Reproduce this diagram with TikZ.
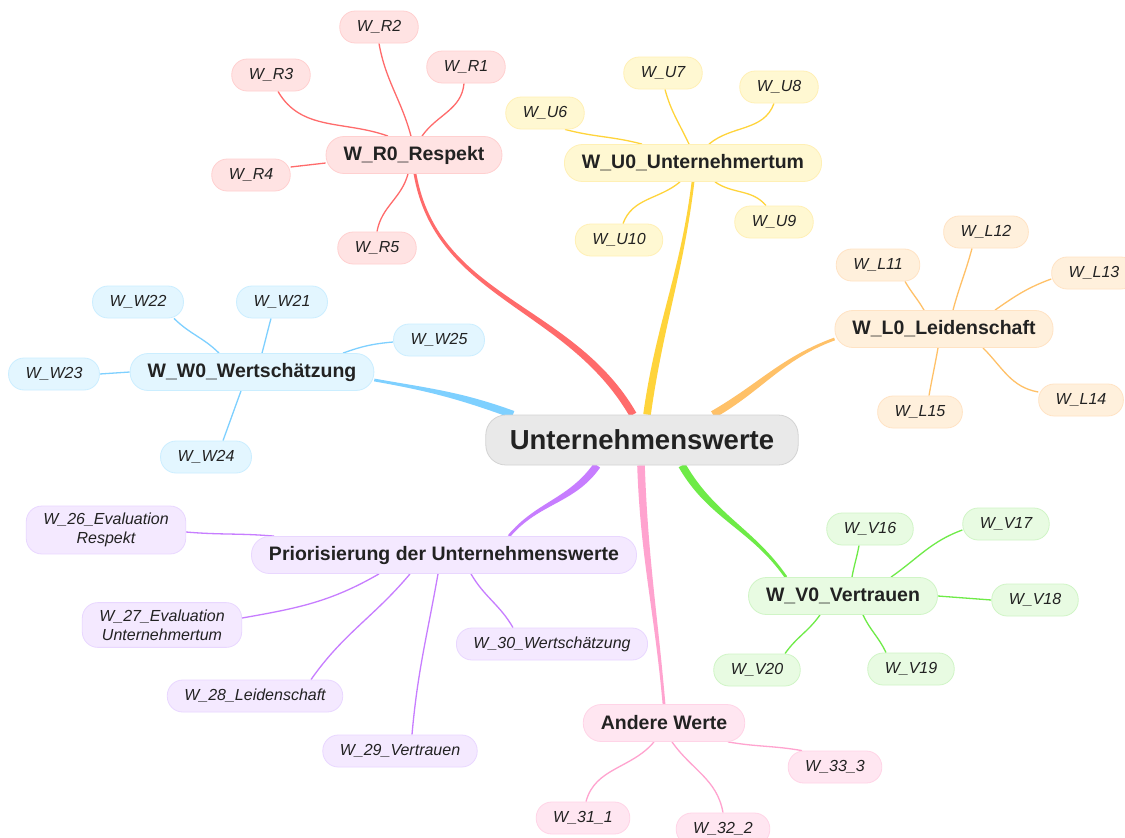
\documentclass[tikz,border=0pt]{standalone}
\usepackage{fontspec}
\setmainfont{Liberation Sans}
\usetikzlibrary{backgrounds, calc}
\definecolor{ink}{HTML}{222222}
\definecolor{rootfill}{HTML}{E9E9E9}
\definecolor{rootedge}{HTML}{D3D3D3}
\definecolor{redline}{HTML}{FF6B6B}
\definecolor{redfill}{HTML}{FFE3E3}
\definecolor{rededge}{HTML}{FFD0D0}
\definecolor{yelline}{HTML}{FFD43B}
\definecolor{yelfill}{HTML}{FFF8D2}
\definecolor{yeledge}{HTML}{FFF0B5}
\definecolor{oraline}{HTML}{FFC168}
\definecolor{orafill}{HTML}{FFF0DC}
\definecolor{oraedge}{HTML}{FFE3C4}
\definecolor{bluline}{HTML}{7ED0FF}
\definecolor{blufill}{HTML}{E3F6FF}
\definecolor{bluedge}{HTML}{CBEEFF}
\definecolor{purline}{HTML}{C77DFF}
\definecolor{purfill}{HTML}{F4E9FF}
\definecolor{puredge}{HTML}{E9D7FF}
\definecolor{pnkline}{HTML}{FFA3CF}
\definecolor{pnkfill}{HTML}{FFE6F1}
\definecolor{pnkedge}{HTML}{FFD4E7}
\definecolor{grnline}{HTML}{6EEB47}
\definecolor{grnfill}{HTML}{E8FBE2}
\definecolor{grnedge}{HTML}{D0F5C6}
% tapered main branch: colour, start, out angle, end, in angle
\newcommand\branchline[5]{%
  \fill[#1line] ($#2+(#3+90:3.8pt)$) to[out=#3,in=#5] ($#4+(#5-90:1.4pt)$)
    -- ($#4+(#5+90:1.4pt)$) to[out=#5,in=#3] ($#2+(#3-90:3.8pt)$) -- cycle;}

\begin{document}
\begin{tikzpicture}[x=1pt, y=1pt,
    root/.style={draw=rootedge, fill=rootfill, text=ink, rounded corners=20pt,
                 minimum height=50pt, inner xsep=24pt, line width=0.8pt,
                 font=\fontsize{27.5}{30}\selectfont\bfseries},
    topic/.style={draw=#1edge, fill=#1fill, text=ink, rounded corners=18pt,
                  minimum height=37pt, inner xsep=17.5pt, line width=0.8pt,
                  font=\fontsize{19.5}{22}\selectfont\bfseries},
    leaf/.style={draw=#1edge, fill=#1fill, text=ink, rounded corners=15.5pt,
                 minimum height=32pt, inner xsep=17pt, line width=0.8pt, align=center,
                 font=\fontsize{16}{19}\selectfont\itshape},
    twig/.style={draw=#1line, line width=1.3pt}]
  \useasboundingbox (0,0) rectangle (1125,-838);

  \node[root] (root) at (642,-440) {Unternehmenswerte};

  \node[topic=red] (r0) at (414,-155) {W\_R0\_Respekt};
  \node[leaf=red] (r1) at (466,-67) {W\_R1};
  \node[leaf=red] (r2) at (379,-27) {W\_R2};
  \node[leaf=red] (r3) at (271,-75) {W\_R3};
  \node[leaf=red] (r4) at (251,-175) {W\_R4};
  \node[leaf=red] (r5) at (377,-248) {W\_R5};

  \node[topic=yel] (u0) at (693,-163) {W\_U0\_Unternehmertum};
  \node[leaf=yel] (u6) at (545,-113) {W\_U6};
  \node[leaf=yel] (u7) at (663,-73) {W\_U7};
  \node[leaf=yel] (u8) at (779,-87) {W\_U8};
  \node[leaf=yel] (u9) at (774,-222) {W\_U9};
  \node[leaf=yel] (u10) at (619,-240) {W\_U10};

  \node[topic=ora] (l0) at (944,-329) {W\_L0\_Leidenschaft};
  \node[leaf=ora] (l11) at (878,-265) {W\_L11};
  \node[leaf=ora] (l12) at (986,-232) {W\_L12};
  \node[leaf=ora] (l13) at (1094,-273) {W\_L13};
  \node[leaf=ora] (l14) at (1081,-400) {W\_L14};
  \node[leaf=ora] (l15) at (920,-412) {W\_L15};

  \node[topic=blu] (w0) at (252,-372) {W\_W0\_Wertschätzung};
  \node[leaf=blu] (w21) at (282,-302) {W\_W21};
  \node[leaf=blu] (w22) at (138,-302) {W\_W22};
  \node[leaf=blu] (w23) at (54,-374) {W\_W23};
  \node[leaf=blu] (w24) at (206,-457) {W\_W24};
  \node[leaf=blu] (w25) at (439,-340) {W\_W25};

  \node[topic=pur] (pr) at (444,-555) {Priorisierung der Unternehmenswerte};
  \node[leaf=pur, inner ysep=7pt] (w26) at (106,-530) {W\_26\_Evaluation\\Respekt};
  \node[leaf=pur, inner ysep=7pt] (w27) at (162,-625) {W\_27\_Evaluation\\Unternehmertum};
  \node[leaf=pur] (w28) at (255,-696) {W\_28\_Leidenschaft};
  \node[leaf=pur] (w29) at (400,-751) {W\_29\_Vertrauen};
  \node[leaf=pur] (w30) at (552,-644) {W\_30\_Wertschätzung};

  \node[topic=pnk] (aw) at (664,-723) {Andere Werte};
  \node[leaf=pnk] (w31) at (583,-818) {W\_31\_1};
  \node[leaf=pnk] (w32) at (723,-829) {W\_32\_2};
  \node[leaf=pnk] (w33) at (835,-767) {W\_33\_3};

  \node[topic=grn] (v0) at (843,-596) {W\_V0\_Vertrauen};
  \node[leaf=grn] (v16) at (870,-529) {W\_V16};
  \node[leaf=grn] (v17) at (1006,-524) {W\_V17};
  \node[leaf=grn] (v18) at (1035,-600) {W\_V18};
  \node[leaf=grn] (v19) at (911,-669) {W\_V19};
  \node[leaf=grn] (v20) at (757,-670) {W\_V20};

  \begin{scope}[on background layer]
    \fill[white] (0,0) rectangle (1125,-838);

    \branchline{red}{([xshift=-9pt]root.north)}{120}{([xshift=1pt]r0.south)}{-80}
    \branchline{yel}{([xshift=5pt]root.north)}{82}{(u0.south)}{-97}
    \branchline{ora}{([xshift=71pt]root.north)}{30}{([yshift=-10pt]l0.west)}{200}
    \branchline{blu}{([xshift=-129pt]root.north)}{160}{([yshift=-8pt]w0.east)}{-10}
    \branchline{pur}{([xshift=-45pt]root.south)}{-125}{([xshift=65pt]pr.north)}{50}
    \branchline{pnk}{([xshift=-1pt]root.south)}{-88}{(aw.north)}{95}
    \branchline{grn}{([xshift=40pt]root.south)}{-60}{([xshift=-57pt]v0.north)}{125}

    \draw[twig=red] ([xshift=8pt]r0.north) to[out=55,in=-95] ([xshift=-2pt]r1.south);
    \draw[twig=red] ([xshift=-3pt]r0.north) to[out=105,in=-80] (r2.south);
    \draw[twig=red] ([xshift=-26pt]r0.north) to[out=160,in=-60] ([xshift=7pt]r3.south);
    \draw[twig=red] ([yshift=-8pt]r0.west) -- ([yshift=8pt]r4.east);
    \draw[twig=red] ([xshift=-6pt]r0.south) to[out=-105,in=80] (r5.north);

    \draw[twig=yel] ([xshift=-51pt]u0.north) to[out=165,in=-15] ([xshift=20pt]u6.south);
    \draw[twig=yel] ([xshift=-4pt]u0.north) to[out=115,in=-75] ([xshift=2pt]u7.south);
    \draw[twig=yel] ([xshift=16pt]u0.north) to[out=40,in=-110] ([xshift=-5pt]u8.south);
    \draw[twig=yel] ([xshift=22pt]u0.south) to[out=-35,in=130] ([xshift=-8pt]u9.north);
    \draw[twig=yel] ([xshift=-13pt]u0.south) to[out=-140,in=70] ([xshift=4pt]u10.north);

    \draw[twig=ora] ([xshift=-20pt]l0.north) to[out=120,in=-60] ([xshift=27pt]l11.south);
    \draw[twig=ora] ([xshift=9pt]l0.north) to[out=75,in=-105] ([xshift=-14pt]l12.south);
    \draw[twig=ora] ([xshift=51pt]l0.north) to[out=35,in=200] ([yshift=-6pt]l13.west);
    \draw[twig=ora] ([xshift=39pt]l0.south) to[out=-45,in=170] ([yshift=8pt]l14.west);
    \draw[twig=ora] ([xshift=-6pt]l0.south) to[out=-100,in=80] ([xshift=9pt]l15.north);

    \draw[twig=blu] ([xshift=10pt]w0.north) to[out=75,in=-105] ([xshift=-11pt]w21.south);
    \draw[twig=blu] ([xshift=-33pt]w0.north) to[out=135,in=-45] ([xshift=36pt]w22.south);
    \draw[twig=blu] (w0.west) -- (w23.east);
    \draw[twig=blu] ([xshift=-11pt]w0.south) to[out=-110,in=70] ([xshift=17pt]w24.north);
    \draw[twig=blu] ([xshift=91pt]w0.north) to[out=20,in=185] ([yshift=-2pt]w25.west);

    \draw[twig=pur] ([xshift=-170pt]pr.north) to[out=175,in=-5] ([yshift=-2pt]w26.east);
    \draw[twig=pur] ([xshift=-65pt]pr.south) to[out=-150,in=10] ([yshift=7pt]w27.east);
    \draw[twig=pur] ([xshift=-34pt]pr.south) to[out=-130,in=55] ([xshift=56pt]w28.north);
    \draw[twig=pur] ([xshift=-6pt]pr.south) to[out=-100,in=85] ([xshift=12pt]w29.north);
    \draw[twig=pur] ([xshift=27pt]pr.south) to[out=-60,in=120] ([xshift=-39pt]w30.north);

    \draw[twig=pnk] ([xshift=-10pt]aw.south) to[out=-130,in=75] ([xshift=3pt]w31.north);
    \draw[twig=pnk] ([xshift=8pt]aw.south) to[out=-55,in=100] (w32.north);
    \draw[twig=pnk] ([xshift=64pt]aw.south) to[out=-10,in=170] ([xshift=-33pt]w33.north);

    \draw[twig=grn] ([xshift=9pt]v0.north) to[out=80,in=-100] ([xshift=-11pt]v16.south);
    \draw[twig=grn] ([xshift=48pt]v0.north) to[out=35,in=200] ([yshift=-6pt]v17.west);
    \draw[twig=grn] (v0.east) -- (v18.west);
    \draw[twig=grn] ([xshift=20pt]v0.south) to[out=-65,in=115] ([xshift=-25pt]v19.north);
    \draw[twig=grn] ([xshift=-23pt]v0.south) to[out=-125,in=55] ([xshift=28pt]v20.north);
  \end{scope}
\end{tikzpicture}
\end{document}
